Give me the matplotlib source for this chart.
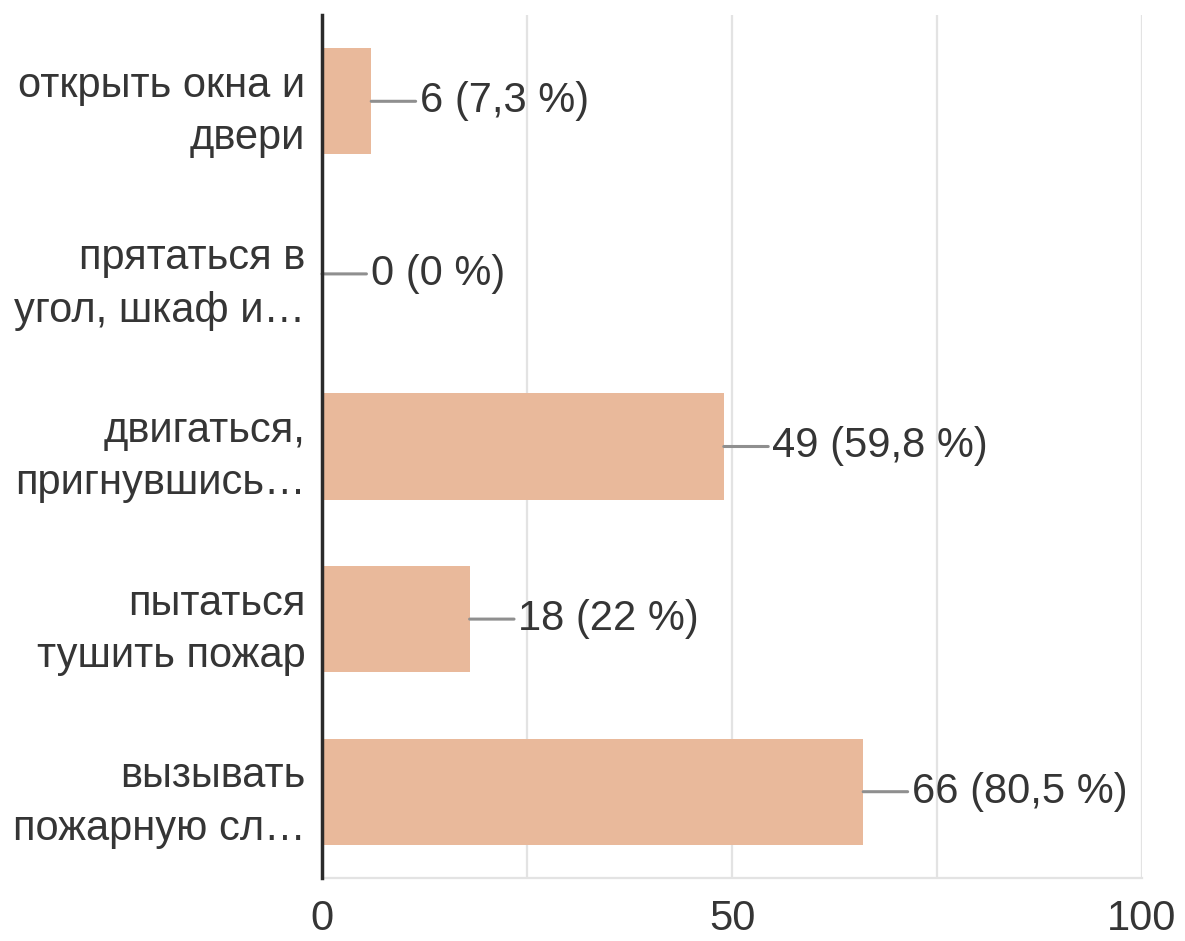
import matplotlib
matplotlib.use("Agg")
import matplotlib.pyplot as plt

categories = ["открыть окна и\nдвери", "прятаться в\nугол, шкаф и…",
              "двигаться,\nпригнувшись…", "пытаться\nтушить пожар",
              "вызывать\nпожарную сл…"]
counts = [6, 0, 49, 18, 66]
percents = ["7,3", "0", "59,8", "22", "80,5"]
xticks = [0, 50, 100]

plt.rcParams['font.family'] = ['Liberation Sans', 'DejaVu Sans']
TXT = '#353535'
FS = 30

fig = plt.figure(figsize=(11.85, 9.41), dpi=100)
ax = fig.add_axes([322/1185, 1-878/941, (1142-322)/1185, (878-15)/941])

y = list(range(len(categories)))
ax.barh(y, counts, height=0.615, color='#E9B99B', zorder=2)

for i, (c, p) in enumerate(zip(counts, percents)):
    ax.annotate(f"{c} ({p} %)", xy=(c, i), xytext=(35, 0),
                textcoords='offset points', va='center', ha='left',
                fontsize=FS, color=TXT,
                arrowprops=dict(arrowstyle='-', color='#8f8f8f', lw=2.2,
                                shrinkA=1, shrinkB=0))

ax.set_xlim(0, 100)
ax.set_ylim(4.5, -0.5)
ax.set_yticks(y)
ax.set_yticklabels(categories, fontsize=FS, color=TXT, linespacing=1.4)
ax.set_xticks(xticks)
ax.set_xticklabels([str(t) for t in xticks], fontsize=FS, color=TXT)
ax.tick_params(axis='both', length=0)
ax.tick_params(axis='y', pad=12)
ax.tick_params(axis='x', pad=15)

for g in [25, 50, 75, 100]:
    ax.axvline(g, color='#e3e3e3', lw=1.6, zorder=0)

for s in ['top', 'right']:
    ax.spines[s].set_visible(False)
ax.spines['bottom'].set_color('#e3e3e3')
ax.spines['bottom'].set_linewidth(1.6)
ax.spines['left'].set_color('#2b2b2b')
ax.spines['left'].set_linewidth(2.5)
ax.spines['left'].set_zorder(3)

fig.savefig("out.png", dpi=100)
